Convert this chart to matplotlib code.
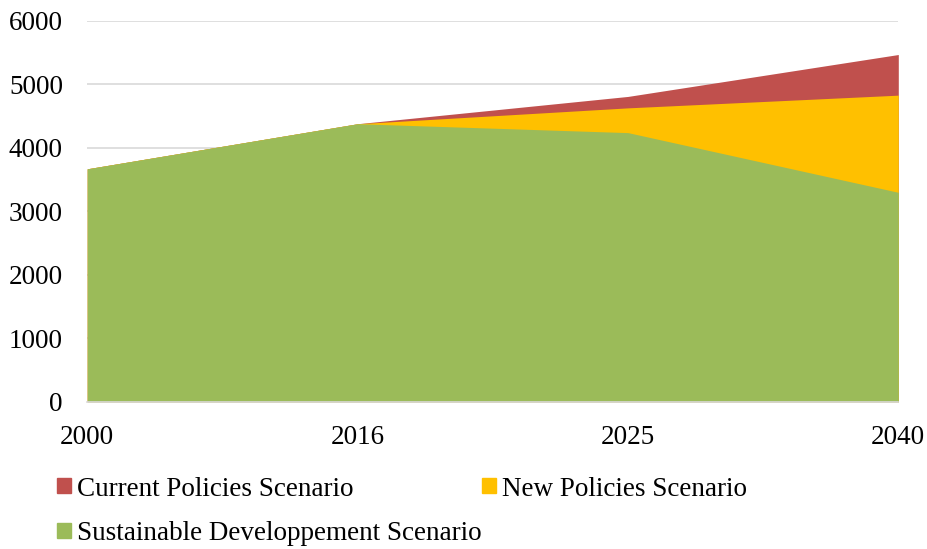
import numpy as np
import matplotlib.pyplot as plt
from matplotlib.patches import Patch

plt.rcParams['font.family'] = ['Liberation Serif', 'DejaVu Serif']

years = ['2000', '2016', '2025', '2040']
current = [3670, 4380, 4810, 5470]
new = [3670, 4380, 4630, 4830]
sustainable = [3670, 4380, 4240, 3300]

names = ['Current Policies Scenario', 'New Policies Scenario',
         'Sustainable Developpement Scenario']
colors = ['#C0504D', '#FFC000', '#9BBB59']

xx = np.arange(len(years))

fig = plt.figure(figsize=(9.28, 5.49), dpi=100)
ax = fig.add_axes([0.094, 0.268, 0.874, 0.694])

for vals, c in zip([current, new, sustainable], colors):
    ax.fill_between(xx, 0, vals, color=c, linewidth=0)

ax.set_xlim(0, 3)
ax.set_ylim(0, 6000)
ax.set_yticks(np.arange(0, 6001, 1000))
ax.set_xticks(xx, years)
ax.grid(axis='y', color='#D9D9D9', linewidth=1.2)
ax.set_axisbelow(True)
for s in ['top', 'right', 'left']:
    ax.spines[s].set_visible(False)
ax.spines['bottom'].set_color('#D9D9D9')
ax.spines['bottom'].set_linewidth(1.2)
ax.tick_params(axis='both', length=0, labelsize=19.5, colors='black')
ax.tick_params(axis='y', pad=17.5)
ax.tick_params(axis='x', pad=16.5)

# legend: first row two entries, second row one entry
leg_kw = dict(loc='center left', frameon=False, fontsize=19.5,
              handlelength=0.52, handleheight=0.48, handletextpad=0.22,
              borderaxespad=0, borderpad=0)
fig.legend([Patch(color=colors[0]), Patch(color=colors[1])],
           names[:2], bbox_to_anchor=(57 / 928, 1 - 489 / 549),
           ncol=2, columnspacing=4.73, **leg_kw)
fig.legend([Patch(color=colors[2])], names[2:],
           bbox_to_anchor=(57 / 928, 1 - 534 / 549), **leg_kw)

plt.savefig('out.png')
